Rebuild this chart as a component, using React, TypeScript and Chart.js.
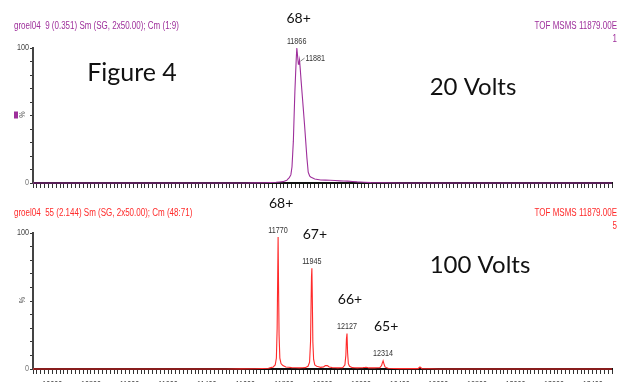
import { useEffect, useRef } from 'react';
import { Chart, registerables } from 'chart.js';

Chart.register(...registerables);

// ---------- data ----------
const MASS_MIN = 10500;
const MASS_MAX = 13500;
const xTickLabels = [10600, 10800, 11000, 11200, 11400, 11600, 11800, 12000, 12200, 12400, 12600, 12800, 13000, 13200, 13400];
const yTickLabels = [0, 100];

// 20 Volts spectrum (mass vs % intensity)
const lowMass = [10500, 11600, 11700, 11760, 11795, 11815, 11828, 11836, 11842, 11849, 11853, 11857, 11861, 11864, 11867, 11871, 11875, 11878, 11881, 11885, 11889, 11895, 11900, 11907, 11913, 11919, 11926, 11934, 11944, 11960, 11990, 12040, 12090, 12130, 12180, 12250, 12400, 13500];
const lowInt = [0, 0, 0.2, 0.5, 1, 2, 4, 6, 12, 31, 50, 68, 82, 92, 100, 94, 88, 88, 91, 84, 76, 65, 56, 43, 31, 19, 8, 5, 4, 3, 2.2, 2, 1.6, 1.4, 0.8, 0.3, 0, 0];

// 100 Volts spectrum
const highMass = [10500, 11000, 11500, 11650, 11720, 11745, 11755, 11761, 11765, 11768, 11770, 11772, 11775, 11779, 11785, 11795, 11810, 11840, 11880, 11910, 11925, 11933, 11938, 11941, 11943, 11945, 11947, 11950, 11954, 11960, 11970, 11990, 12005, 12015, 12025, 12035, 12050, 12080, 12105, 12116, 12121, 12124, 12127, 12130, 12134, 12140, 12155, 12180, 12210, 12225, 12240, 12270, 12297, 12306, 12310, 12314, 12318, 12324, 12340, 12400, 12495, 12505, 12515, 12600, 13000, 13500];
const highInt = [0, 0, 0, 0.2, 0.5, 1.5, 3, 8, 30, 70, 97, 65, 25, 8, 4, 2.5, 1.5, 1, 0.8, 1, 2, 5, 20, 50, 68, 74, 55, 20, 7, 3, 2, 1.2, 1.5, 2.5, 2.5, 1.5, 1, 0.8, 1, 3, 10, 22, 26, 12, 4, 2, 1, 0.8, 1, 1.3, 0.8, 0.8, 1, 2.5, 4.5, 6, 4, 1.5, 0.5, 0.3, 0.3, 1.5, 0.3, 0, 0, 0];

const lowPeakMasses = [11866];
const lowShoulderMasses = [11881];
const lowChargeLabels = ['68+'];
const highPeakMasses = [11770, 11945, 12127, 12314];
const highChargeLabels = ['68+', '67+', '66+', '65+'];

const lowHeader = 'groel04  9 (0.351) Sm (SG, 2x50.00); Cm (1:9)';
const highHeader = 'groel04  55 (2.144) Sm (SG, 2x50.00); Cm (48:71)';
const expHeader = 'TOF MSMS 11879.00E';
const lowScaleNote = '1';
const highScaleNote = '5';
const lowTitle = 'Figure 4';
const lowVolts = '20 Volts';
const highVolts = '100 Volts';

// ---------- styles ----------
const SANS = "'Liberation Sans', Arial, sans-serif";
const BIG = "Lato, 'Open Sans', sans-serif";
const PURPLE = '#9e2f9b';
const RED = '#ff2a2a';
const NARROW_SCALE = 0.8;

function peakAt(mass: number[], inten: number[], m: number) {
  let best = 0;
  for (let i = 0; i < mass.length; i++) {
    if (Math.abs(mass[i] - m) <= 4 && inten[i] > best) best = inten[i];
  }
  return best;
}

function txt(ctx: CanvasRenderingContext2D, s: string, x: number, y: number, font: string, color: string, align: CanvasTextAlign = 'left') {
  ctx.font = font;
  ctx.fillStyle = color;
  ctx.textAlign = align;
  ctx.textBaseline = 'middle';
  ctx.fillText(s, x, y);
}

// condensed (Arial Narrow-like) text
function ntxt(ctx: CanvasRenderingContext2D, s: string, x: number, y: number, size: number, color: string, align: CanvasTextAlign = 'left') {
  ctx.save();
  ctx.translate(x, y);
  ctx.scale(NARROW_SCALE, 1);
  txt(ctx, s, 0, 0, `${size}px ${SANS}`, color, align);
  ctx.restore();
}

function axisText(ctx: CanvasRenderingContext2D, chart: any, showX: boolean) {
  const { x, y } = chart.scales;
  const area = chart.chartArea;
  yTickLabels.forEach((v) => {
    ntxt(ctx, String(v), 29, y.getPixelForValue(v), 9, v === 0 ? '#777' : '#444', 'right');
  });
  const py = y.getPixelForValue(50);
  ctx.save();
  ctx.translate(23, py - 1);
  ctx.rotate(-Math.PI / 2);
  ntxt(ctx, '%', 0, 0, 9, '#555', 'center');
  ctx.restore();
  if (showX) {
    xTickLabels.forEach((v) => {
      ntxt(ctx, String(v), x.getPixelForValue(v), area.bottom + 16, 9, '#444', 'center');
    });
  }
}

const lowOverlay = {
  id: 'lowOverlay',
  afterDraw(chart: any) {
    const ctx = chart.ctx as CanvasRenderingContext2D;
    const { x, y } = chart.scales;
    ctx.save();
    ntxt(ctx, lowHeader, 14, 26, 10, PURPLE);
    ntxt(ctx, expHeader, 617, 26, 10, PURPLE, 'right');
    ntxt(ctx, lowScaleNote, 617, 39, 10, PURPLE, 'right');
    txt(ctx, lowTitle, 132, 73, `25px ${BIG}`, '#111', 'center');
    txt(ctx, lowVolts, 473, 87, `24px ${BIG}`, '#111', 'center');
    axisText(ctx, chart, false);
    ctx.fillStyle = PURPLE;
    ctx.fillRect(14, y.getPixelForValue(50) - 4, 4, 7);
    lowPeakMasses.forEach((m, i) => {
      const px = x.getPixelForValue(m);
      const py = y.getPixelForValue(peakAt(lowMass, lowInt, m)) - 6;
      ntxt(ctx, String(m), px, py, 9, '#333', 'center');
      if (lowChargeLabels[i]) txt(ctx, lowChargeLabels[i], px + 2, py - 24, `14px ${BIG}`, '#111', 'center');
    });
    lowShoulderMasses.forEach((m) => {
      const px = x.getPixelForValue(m);
      const py = y.getPixelForValue(peakAt(lowMass, lowInt, m));
      ctx.strokeStyle = '#666';
      ctx.lineWidth = 0.8;
      ctx.beginPath();
      ctx.moveTo(px + 1, py + 1);
      ctx.lineTo(px + 5, py - 2);
      ctx.stroke();
      ntxt(ctx, String(m), px + 6, py - 2, 9, '#333', 'left');
    });
    ctx.restore();
  },
};

const highOverlay = {
  id: 'highOverlay',
  afterDraw(chart: any) {
    const ctx = chart.ctx as CanvasRenderingContext2D;
    const { x, y } = chart.scales;
    ctx.save();
    ntxt(ctx, highHeader, 14, 18, 10, RED);
    ntxt(ctx, expHeader, 617, 18, 10, RED, 'right');
    ntxt(ctx, highScaleNote, 617, 31, 10, RED, 'right');
    txt(ctx, highVolts, 480, 70, `24px ${BIG}`, '#111', 'center');
    axisText(ctx, chart, true);
    highPeakMasses.forEach((m, i) => {
      const px = x.getPixelForValue(m);
      const py = y.getPixelForValue(peakAt(highMass, highInt, m)) - 7;
      ntxt(ctx, String(m), px, py, 9, '#333', 'center');
      txt(ctx, highChargeLabels[i], px + 3, py - 27, `14px ${BIG}`, '#111', 'center');
    });
    ctx.restore();
  },
};

function makeChart(canvas: HTMLCanvasElement, mass: number[], inten: number[], color: string, padTop: number, axisH: number, overlay: any) {
  return new Chart(canvas, {
    type: 'line',
    data: {
      datasets: [{
        data: mass.map((m, i) => ({ x: m, y: inten[i] })),
        borderColor: color,
        borderWidth: 1.1,
        pointRadius: 0,
        tension: 0.001,
        fill: false,
        clip: 8,
      } as any],
    },
    options: {
      animation: false,
      responsive: false,
      events: [],
      layout: { padding: { top: padTop, right: 6, left: 0, bottom: 0 } },
      plugins: { legend: { display: false }, tooltip: { enabled: false }, title: { display: false } },
      scales: {
        x: {
          type: 'linear',
          min: MASS_MIN,
          max: MASS_MAX,
          afterFit: (s: any) => { s.height = axisH; },
          border: { display: true, color: '#111', width: 2 },
          grid: { drawOnChartArea: false, drawTicks: true, tickLength: 5, color: '#333', lineWidth: 1 },
          ticks: {
            stepSize: 20,
            autoSkip: false,
            maxRotation: 0,
            minRotation: 0,
            padding: 2,
            font: { family: SANS, size: 9 },
            callback: () => '',
          },
        },
        y: {
          min: 0,
          max: 100,
          afterFit: (s: any) => { s.width = 33; },
          border: { display: true, color: '#444', width: 2 },
          grid: { drawOnChartArea: false, drawTicks: true, tickLength: 3, color: '#333', lineWidth: 1 },
          ticks: {
            stepSize: 10,
            autoSkip: false,
            padding: 1,
            font: { family: SANS, size: 9 },
            callback: () => '',
          },
        },
      },
    },
    plugins: [overlay],
  } as any);
}

export default function App() {
  const topRef = useRef<HTMLCanvasElement>(null);
  const botRef = useRef<HTMLCanvasElement>(null);

  useEffect(() => {
    const c1 = makeChart(topRef.current!, lowMass, lowInt, PURPLE, 48, 12, lowOverlay);
    const c2 = makeChart(botRef.current!, highMass, highInt, RED, 38, 26, highOverlay);
    return () => { c1.destroy(); c2.destroy(); };
  }, []);

  return (
    <div style={{ position: 'absolute', left: 0, top: 0, width: 618, height: 382, overflow: 'hidden', background: '#fff' }}>
      <canvas ref={topRef} width={618} height={195} style={{ position: 'absolute', left: 0, top: 0, width: 618, height: 195 }} />
      <canvas ref={botRef} width={618} height={200} style={{ position: 'absolute', left: 0, top: 195, width: 618, height: 200 }} />
    </div>
  );
}
